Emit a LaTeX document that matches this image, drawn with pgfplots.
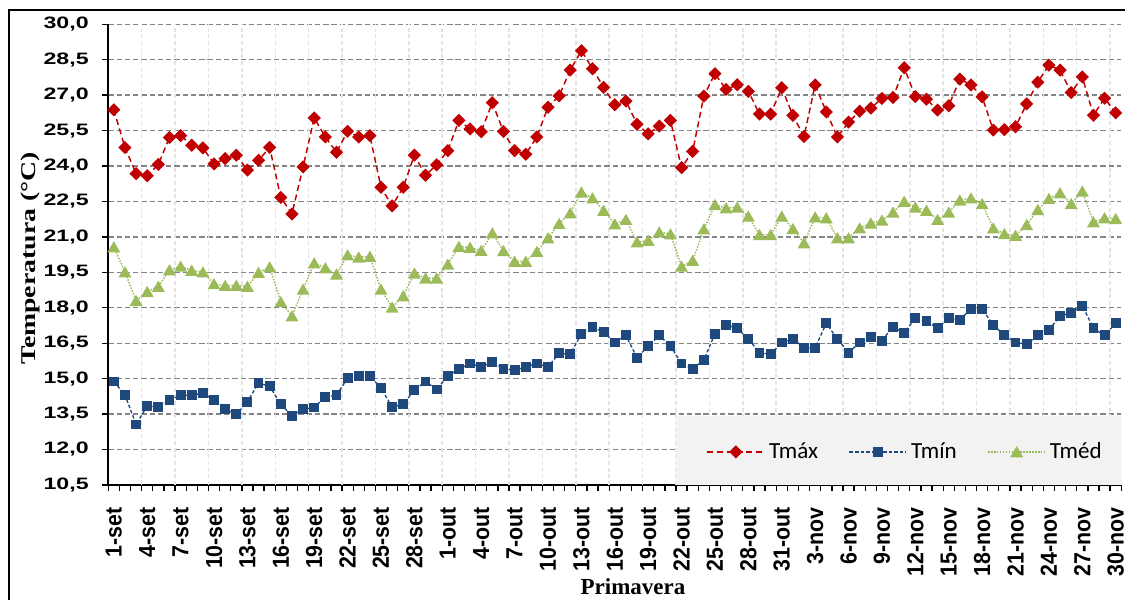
\documentclass[border=0pt]{standalone}
\usepackage{pgfplots}
\pgfplotsset{compat=1.18}
\usepackage{pgfplotstable}
\usepackage{fontspec}
\setmainfont{Liberation Sans}
\newfontfamily\ytfont{Liberation Sans}[FakeStretch=1.4]
\newfontfamily\xtfont{Liberation Sans}[FakeStretch=0.92]
\newfontfamily\labfont{Liberation Serif}
\newfontfamily\ylabfont{Liberation Serif}[FakeStretch=1.32]
\newfontfamily\legfont{Carlito}
\definecolor{tmaxc}{HTML}{C00000}
\definecolor{tminc}{HTML}{1F497D}
\definecolor{tmedc}{HTML}{9BBB59}
\definecolor{legbg}{HTML}{F2F2F2}
\definecolor{vgrid}{HTML}{E4E4E4}
\definecolor{hgrid}{HTML}{848484}

\pgfplotstableread{
d tmax tmin tmed
1 26.38 14.88 20.57
2 24.78 14.31 19.51
3 23.68 13.06 18.30
4 23.59 13.85 18.68
5 24.07 13.79 18.90
6 25.21 14.09 19.60
7 25.29 14.30 19.75
8 24.88 14.30 19.58
9 24.77 14.38 19.51
10 24.09 14.09 19.01
11 24.31 13.71 18.94
12 24.46 13.49 18.94
13 23.83 14.02 18.90
14 24.24 14.82 19.49
15 24.79 14.67 19.72
16 22.67 13.92 18.25
17 21.97 13.42 17.65
18 23.96 13.71 18.78
19 26.03 13.78 19.89
20 25.23 14.23 19.68
21 24.58 14.30 19.42
22 25.47 15.02 20.23
23 25.23 15.12 20.14
24 25.29 15.11 20.17
25 23.10 14.61 18.78
26 22.31 13.79 18.02
27 23.10 13.92 18.50
28 24.46 14.51 19.46
29 23.61 14.88 19.25
30 24.05 14.54 19.25
31 24.65 15.11 19.84
32 25.93 15.40 20.59
33 25.57 15.64 20.55
34 25.45 15.49 20.42
35 26.68 15.71 21.16
36 25.46 15.42 20.41
37 24.65 15.35 19.96
38 24.50 15.50 19.96
39 25.23 15.64 20.38
40 26.49 15.50 20.95
41 26.97 16.07 21.56
42 28.06 16.03 22.01
43 28.88 16.90 22.89
44 28.12 17.20 22.64
45 27.33 16.96 22.12
46 26.59 16.53 21.54
47 26.75 16.83 21.73
48 25.77 15.88 20.78
49 25.36 16.38 20.85
50 25.69 16.83 21.20
51 25.93 16.38 21.12
52 23.93 15.64 19.75
53 24.62 15.42 20.00
54 26.96 15.79 21.33
55 27.91 16.90 22.36
56 27.24 17.27 22.22
57 27.44 17.13 22.25
58 27.16 16.68 21.87
59 26.20 16.10 21.09
60 26.20 16.03 21.09
61 27.31 16.53 21.87
62 26.14 16.68 21.34
63 25.25 16.31 20.74
64 27.43 16.31 21.84
65 26.29 17.34 21.80
66 25.23 16.68 20.95
67 25.86 16.10 20.95
68 26.32 16.53 21.37
69 26.45 16.75 21.58
70 26.86 16.61 21.70
71 26.90 17.20 22.04
72 28.16 16.92 22.50
73 26.94 17.57 22.25
74 26.83 17.43 22.12
75 26.37 17.13 21.73
76 26.55 17.57 22.04
77 27.68 17.50 22.55
78 27.43 17.95 22.64
79 26.93 17.95 22.40
80 25.52 17.27 21.37
81 25.54 16.83 21.13
82 25.66 16.53 21.06
83 26.63 16.46 21.51
84 27.55 16.83 22.15
85 28.27 17.06 22.62
86 28.06 17.65 22.86
87 27.11 17.79 22.40
88 27.77 18.09 22.93
89 26.15 17.13 21.63
90 26.87 16.83 21.80
91 26.25 17.34 21.77
}\datatable

\begin{document}
\begin{tikzpicture}
\begin{axis}[
  scale only axis,
  width=759.75pt, height=345.5pt,
  xmin=0.5, xmax=91.5,
  ymin=10.5, ymax=30,
  axis x line=bottom, axis y line=left,
  axis line style={-, black, line width=1.4pt},
  tick align=outside,
  tick style={black, line width=1.0pt},
  major tick length=4.5pt, minor tick length=4.5pt,
  xtick={1,4,...,91},
  xticklabels={1-set,4-set,7-set,10-set,13-set,16-set,19-set,22-set,25-set,28-set,1-out,4-out,7-out,10-out,13-out,16-out,19-out,22-out,25-out,28-out,31-out,3-nov,6-nov,9-nov,12-nov,15-nov,18-nov,21-nov,24-nov,27-nov,30-nov},
  major x tick style={draw=none},
  minor xtick={0.5,1.5,...,91.5},
  extra x ticks={3.5,6.5,...,90.5},
  extra x tick labels={},
  extra x tick style={xmajorgrids=true, major tick length=0pt, major grid style={vgrid, line width=1.1pt, dash pattern=on 3pt off 2pt}},
  xmajorgrids=false,
  ytick={10.5,12,13.5,15,16.5,18,19.5,21,22.5,24,25.5,27,28.5,30},
  ymajorgrids=true,
  major grid style={hgrid, line width=1.0pt, dash pattern=on 4pt off 2.2pt},
  xticklabel style={font=\xtfont\bfseries\fontsize{17.4pt}{18pt}\selectfont, yshift=-12pt, rotate=90, anchor=east, inner sep=0pt},
  yticklabel style={font=\ytfont\bfseries\fontsize{12.4pt}{14pt}\selectfont, anchor=east, inner sep=0pt, xshift=-10pt,
    /pgf/number format/.cd, fixed, fixed zerofill, precision=1, use comma, assume math mode=true},
  every axis y label/.style={at={(rel axis cs:0,0.5)}, xshift=-58pt, yshift=-3pt, rotate=90, anchor=center},
  every axis x label/.style={at={(rel axis cs:0.5,0)}, xshift=13.7pt, yshift=-82.5pt, anchor=base},
  ylabel={\ylabfont\bfseries\fontsize{15.75pt}{17pt}\selectfont Temperatura (°C)},
  xlabel={\labfont\bfseries\fontsize{17.25pt}{19pt}\selectfont Primavera},
  legend columns=3,
  legend style={draw=none, fill=none, at={(rel axis cs:0.787,0.0716)}, anchor=center,
    font=\legfont\fontsize{17.3pt}{19pt}\selectfont,
    /tikz/every odd column/.append style={column sep=1pt},
    /tikz/every even column/.append style={column sep=21pt}},
  legend image code/.code={\draw[mark repeat=2, mark phase=2, #1] plot coordinates {(0pt,0pt) (21.4pt,0pt) (42.75pt,0pt)};},
]
\fill[legbg] (rel axis cs:0.5604,0) rectangle (rel axis cs:1.002,0.150);
\addplot[color=tmaxc, line width=1.1pt, dash pattern=on 4.5pt off 2.8pt, mark=square*, mark size=2.95pt, mark options={solid, rotate=45, fill=tmaxc}] table[x=d, y=tmax] {\datatable};
\addlegendentry{Tmáx}
\addplot[color=tminc, line width=1.0pt, dash pattern=on 2.6pt off 1.6pt, mark=square*, mark size=3.2pt, mark options={solid, fill=tminc}] table[x=d, y=tmin] {\datatable};
\addlegendentry{Tmín}
\addplot[color=tmedc, line width=1.1pt, dash pattern=on 1.1pt off 1.1pt, mark=triangle*, mark size=4.5pt, mark options={solid, fill=tmedc, yshift=-1.2pt}] table[x=d, y=tmed] {\datatable};
\addlegendentry{Tméd}
\coordinate (SW) at (rel axis cs:0,0);
\coordinate (NE) at (rel axis cs:1,1);
\end{axis}
\draw[black, line width=1.2pt] ([shift={(-74.5pt,-130pt)}]SW) rectangle ([shift={(30pt,10.7pt)}]NE);
\pgfresetboundingbox
\useasboundingbox ([shift={(-81.2pt,-86.25pt)}]SW) rectangle ([shift={(2.8pt,18.2pt)}]NE);
\end{tikzpicture}
\end{document}
